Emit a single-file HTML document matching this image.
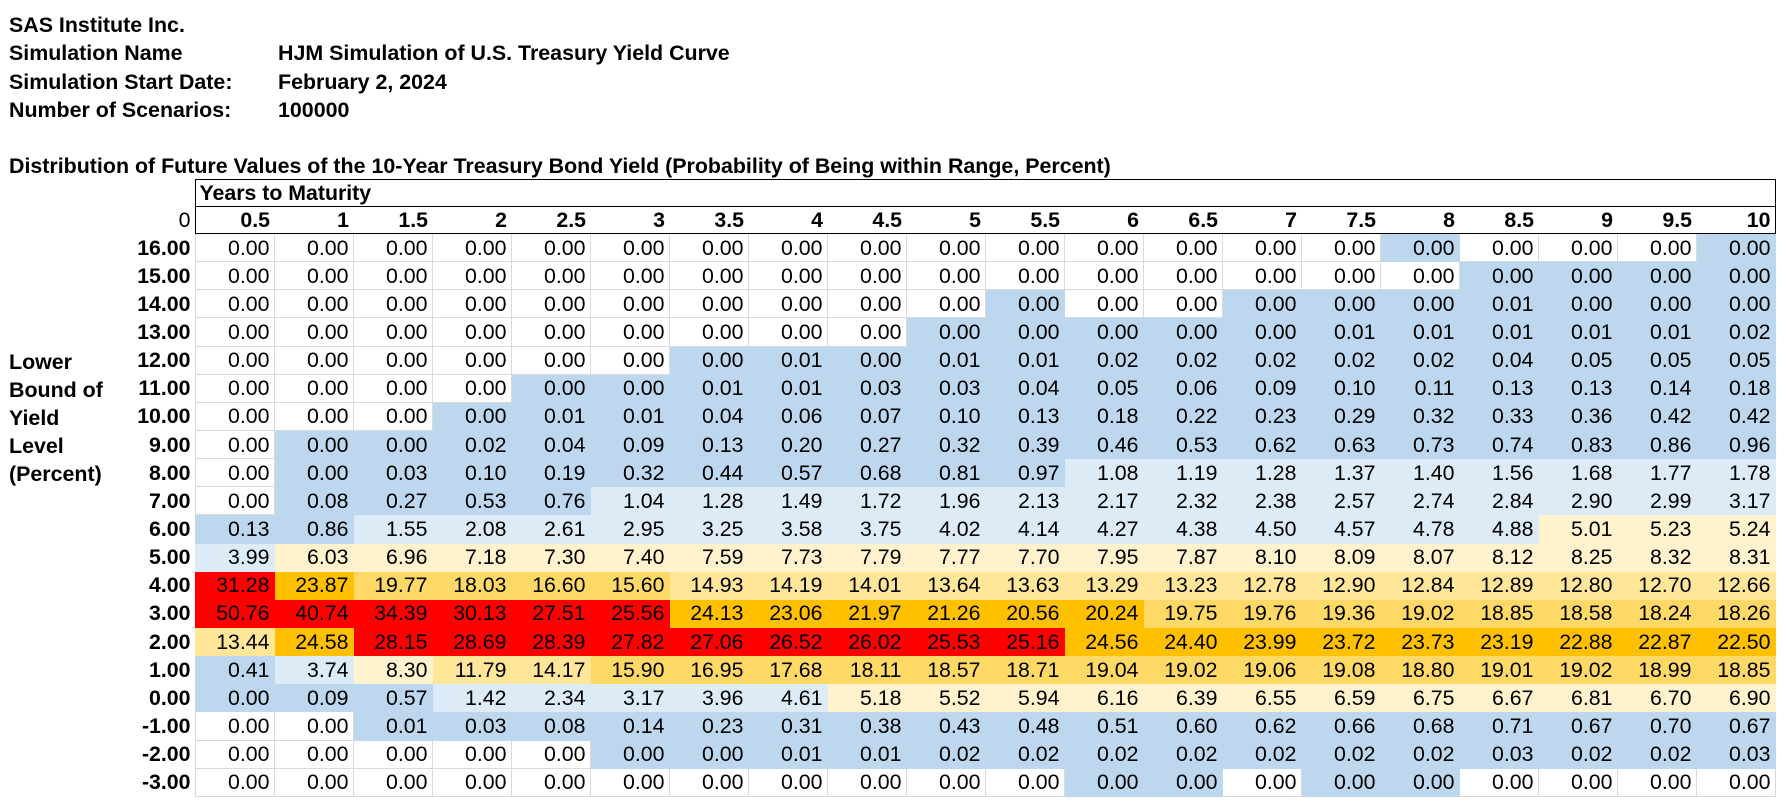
<!DOCTYPE html>
<html><head><meta charset="utf-8"><style>
body{margin:0;width:1786px;height:810px;background:#fff;position:relative;overflow:hidden;font-family:"Liberation Sans",Arial,sans-serif;color:#000}
.t{position:absolute;font-weight:bold;font-size:21.4px;line-height:22px;white-space:nowrap}
table{position:absolute;left:0;top:179px;border-collapse:collapse;table-layout:fixed;font-size:21.3px}
td{padding:0 4px 0 0;text-align:right;white-space:nowrap;border:1px solid #dadada;height:26px;line-height:26px;overflow:hidden}
tr.d td{height:27.15px}
tr.d td.h{border:none;font-weight:bold}
tr.hd td.h0{border:none}
tr.hd td.ym{border:1px solid #000;text-align:left;padding-left:4px;font-weight:bold}
tr.h2 td.h0{border:none}
tr.h2 td.c{border:none;border-top:1px solid #000;border-bottom:1px solid #000;font-weight:bold}
tr.h2 td.c1{border-left:1px solid #000}
tr.h2 td.c20{border-right:1px solid #000}
.b{background:#BDD7EE;border-color:#BDD7EE}
.l{background:#DDEBF7;border-color:#DDEBF7}
.y{background:#FFF2CC;border-color:#FFF2CC}
.o{background:#FFE699;border-color:#FFE699}
.p{background:#FFD966;border-color:#FFD966}
.g{background:#FFC000;border-color:#FFC000}
.r{background:#FF0000;border-color:#FF0000}
</style></head><body>
<div class="t" style="left:9px;top:14px">SAS Institute Inc.</div>
<div class="t" style="left:9px;top:42px">Simulation Name</div>
<div class="t" style="left:278px;top:42px">HJM Simulation of U.S. Treasury Yield Curve</div>
<div class="t" style="left:9px;top:71px">Simulation Start Date:</div>
<div class="t" style="left:278px;top:71px">February 2, 2024</div>
<div class="t" style="left:9px;top:99px">Number of Scenarios:</div>
<div class="t" style="left:278px;top:99px">100000</div>
<div class="t" style="left:9px;top:155px">Distribution of Future Values of the 10-Year Treasury Bond Yield (Probability of Being within Range, Percent)</div>
<div class="t" style="left:9px;top:351px">Lower</div>
<div class="t" style="left:9px;top:379px">Bound of</div>
<div class="t" style="left:9px;top:407px">Yield</div>
<div class="t" style="left:9px;top:435px">Level</div>
<div class="t" style="left:9px;top:463px">(Percent)</div>
<table>
<colgroup><col style="width:195px"><col span="20" style="width:79px"></colgroup>
<tr class="hd"><td class="h0"></td><td class="ym" colspan="20">Years to Maturity</td></tr>
<tr class="h2"><td class="h0">0</td><td class="c c1">0.5</td><td class="c">1</td><td class="c">1.5</td><td class="c">2</td><td class="c">2.5</td><td class="c">3</td><td class="c">3.5</td><td class="c">4</td><td class="c">4.5</td><td class="c">5</td><td class="c">5.5</td><td class="c">6</td><td class="c">6.5</td><td class="c">7</td><td class="c">7.5</td><td class="c">8</td><td class="c">8.5</td><td class="c">9</td><td class="c">9.5</td><td class="c c20">10</td></tr>
<tr class="d"><td class="h">16.00</td><td>0.00</td><td>0.00</td><td>0.00</td><td>0.00</td><td>0.00</td><td>0.00</td><td>0.00</td><td>0.00</td><td>0.00</td><td>0.00</td><td>0.00</td><td>0.00</td><td>0.00</td><td>0.00</td><td>0.00</td><td class="b">0.00</td><td>0.00</td><td>0.00</td><td>0.00</td><td class="b">0.00</td></tr>
<tr class="d"><td class="h">15.00</td><td>0.00</td><td>0.00</td><td>0.00</td><td>0.00</td><td>0.00</td><td>0.00</td><td>0.00</td><td>0.00</td><td>0.00</td><td>0.00</td><td>0.00</td><td>0.00</td><td>0.00</td><td>0.00</td><td>0.00</td><td>0.00</td><td class="b">0.00</td><td class="b">0.00</td><td class="b">0.00</td><td class="b">0.00</td></tr>
<tr class="d"><td class="h">14.00</td><td>0.00</td><td>0.00</td><td>0.00</td><td>0.00</td><td>0.00</td><td>0.00</td><td>0.00</td><td>0.00</td><td>0.00</td><td>0.00</td><td class="b">0.00</td><td>0.00</td><td>0.00</td><td class="b">0.00</td><td class="b">0.00</td><td class="b">0.00</td><td class="b">0.01</td><td class="b">0.00</td><td class="b">0.00</td><td class="b">0.00</td></tr>
<tr class="d"><td class="h">13.00</td><td>0.00</td><td>0.00</td><td>0.00</td><td>0.00</td><td>0.00</td><td>0.00</td><td>0.00</td><td>0.00</td><td>0.00</td><td class="b">0.00</td><td class="b">0.00</td><td class="b">0.00</td><td class="b">0.00</td><td class="b">0.00</td><td class="b">0.01</td><td class="b">0.01</td><td class="b">0.01</td><td class="b">0.01</td><td class="b">0.01</td><td class="b">0.02</td></tr>
<tr class="d"><td class="h">12.00</td><td>0.00</td><td>0.00</td><td>0.00</td><td>0.00</td><td>0.00</td><td>0.00</td><td class="b">0.00</td><td class="b">0.01</td><td class="b">0.00</td><td class="b">0.01</td><td class="b">0.01</td><td class="b">0.02</td><td class="b">0.02</td><td class="b">0.02</td><td class="b">0.02</td><td class="b">0.02</td><td class="b">0.04</td><td class="b">0.05</td><td class="b">0.05</td><td class="b">0.05</td></tr>
<tr class="d"><td class="h">11.00</td><td>0.00</td><td>0.00</td><td>0.00</td><td>0.00</td><td class="b">0.00</td><td class="b">0.00</td><td class="b">0.01</td><td class="b">0.01</td><td class="b">0.03</td><td class="b">0.03</td><td class="b">0.04</td><td class="b">0.05</td><td class="b">0.06</td><td class="b">0.09</td><td class="b">0.10</td><td class="b">0.11</td><td class="b">0.13</td><td class="b">0.13</td><td class="b">0.14</td><td class="b">0.18</td></tr>
<tr class="d"><td class="h">10.00</td><td>0.00</td><td>0.00</td><td>0.00</td><td class="b">0.00</td><td class="b">0.01</td><td class="b">0.01</td><td class="b">0.04</td><td class="b">0.06</td><td class="b">0.07</td><td class="b">0.10</td><td class="b">0.13</td><td class="b">0.18</td><td class="b">0.22</td><td class="b">0.23</td><td class="b">0.29</td><td class="b">0.32</td><td class="b">0.33</td><td class="b">0.36</td><td class="b">0.42</td><td class="b">0.42</td></tr>
<tr class="d"><td class="h">9.00</td><td>0.00</td><td class="b">0.00</td><td class="b">0.00</td><td class="b">0.02</td><td class="b">0.04</td><td class="b">0.09</td><td class="b">0.13</td><td class="b">0.20</td><td class="b">0.27</td><td class="b">0.32</td><td class="b">0.39</td><td class="b">0.46</td><td class="b">0.53</td><td class="b">0.62</td><td class="b">0.63</td><td class="b">0.73</td><td class="b">0.74</td><td class="b">0.83</td><td class="b">0.86</td><td class="b">0.96</td></tr>
<tr class="d"><td class="h">8.00</td><td>0.00</td><td class="b">0.00</td><td class="b">0.03</td><td class="b">0.10</td><td class="b">0.19</td><td class="b">0.32</td><td class="b">0.44</td><td class="b">0.57</td><td class="b">0.68</td><td class="b">0.81</td><td class="b">0.97</td><td class="l">1.08</td><td class="l">1.19</td><td class="l">1.28</td><td class="l">1.37</td><td class="l">1.40</td><td class="l">1.56</td><td class="l">1.68</td><td class="l">1.77</td><td class="l">1.78</td></tr>
<tr class="d"><td class="h">7.00</td><td>0.00</td><td class="b">0.08</td><td class="b">0.27</td><td class="b">0.53</td><td class="b">0.76</td><td class="l">1.04</td><td class="l">1.28</td><td class="l">1.49</td><td class="l">1.72</td><td class="l">1.96</td><td class="l">2.13</td><td class="l">2.17</td><td class="l">2.32</td><td class="l">2.38</td><td class="l">2.57</td><td class="l">2.74</td><td class="l">2.84</td><td class="l">2.90</td><td class="l">2.99</td><td class="l">3.17</td></tr>
<tr class="d"><td class="h">6.00</td><td class="b">0.13</td><td class="b">0.86</td><td class="l">1.55</td><td class="l">2.08</td><td class="l">2.61</td><td class="l">2.95</td><td class="l">3.25</td><td class="l">3.58</td><td class="l">3.75</td><td class="l">4.02</td><td class="l">4.14</td><td class="l">4.27</td><td class="l">4.38</td><td class="l">4.50</td><td class="l">4.57</td><td class="l">4.78</td><td class="l">4.88</td><td class="y">5.01</td><td class="y">5.23</td><td class="y">5.24</td></tr>
<tr class="d"><td class="h">5.00</td><td class="l">3.99</td><td class="y">6.03</td><td class="y">6.96</td><td class="y">7.18</td><td class="y">7.30</td><td class="y">7.40</td><td class="y">7.59</td><td class="y">7.73</td><td class="y">7.79</td><td class="y">7.77</td><td class="y">7.70</td><td class="y">7.95</td><td class="y">7.87</td><td class="y">8.10</td><td class="y">8.09</td><td class="y">8.07</td><td class="y">8.12</td><td class="y">8.25</td><td class="y">8.32</td><td class="y">8.31</td></tr>
<tr class="d"><td class="h">4.00</td><td class="r">31.28</td><td class="g">23.87</td><td class="p">19.77</td><td class="p">18.03</td><td class="p">16.60</td><td class="p">15.60</td><td class="o">14.93</td><td class="o">14.19</td><td class="o">14.01</td><td class="o">13.64</td><td class="o">13.63</td><td class="o">13.29</td><td class="o">13.23</td><td class="o">12.78</td><td class="o">12.90</td><td class="o">12.84</td><td class="o">12.89</td><td class="o">12.80</td><td class="o">12.70</td><td class="o">12.66</td></tr>
<tr class="d"><td class="h">3.00</td><td class="r">50.76</td><td class="r">40.74</td><td class="r">34.39</td><td class="r">30.13</td><td class="r">27.51</td><td class="r">25.56</td><td class="g">24.13</td><td class="g">23.06</td><td class="g">21.97</td><td class="g">21.26</td><td class="g">20.56</td><td class="g">20.24</td><td class="p">19.75</td><td class="p">19.76</td><td class="p">19.36</td><td class="p">19.02</td><td class="p">18.85</td><td class="p">18.58</td><td class="p">18.24</td><td class="p">18.26</td></tr>
<tr class="d"><td class="h">2.00</td><td class="o">13.44</td><td class="g">24.58</td><td class="r">28.15</td><td class="r">28.69</td><td class="r">28.39</td><td class="r">27.82</td><td class="r">27.06</td><td class="r">26.52</td><td class="r">26.02</td><td class="r">25.53</td><td class="r">25.16</td><td class="g">24.56</td><td class="g">24.40</td><td class="g">23.99</td><td class="g">23.72</td><td class="g">23.73</td><td class="g">23.19</td><td class="g">22.88</td><td class="g">22.87</td><td class="g">22.50</td></tr>
<tr class="d"><td class="h">1.00</td><td class="b">0.41</td><td class="l">3.74</td><td class="y">8.30</td><td class="o">11.79</td><td class="o">14.17</td><td class="p">15.90</td><td class="p">16.95</td><td class="p">17.68</td><td class="p">18.11</td><td class="p">18.57</td><td class="p">18.71</td><td class="p">19.04</td><td class="p">19.02</td><td class="p">19.06</td><td class="p">19.08</td><td class="p">18.80</td><td class="p">19.01</td><td class="p">19.02</td><td class="p">18.99</td><td class="p">18.85</td></tr>
<tr class="d"><td class="h">0.00</td><td class="b">0.00</td><td class="b">0.09</td><td class="b">0.57</td><td class="l">1.42</td><td class="l">2.34</td><td class="l">3.17</td><td class="l">3.96</td><td class="l">4.61</td><td class="y">5.18</td><td class="y">5.52</td><td class="y">5.94</td><td class="y">6.16</td><td class="y">6.39</td><td class="y">6.55</td><td class="y">6.59</td><td class="y">6.75</td><td class="y">6.67</td><td class="y">6.81</td><td class="y">6.70</td><td class="y">6.90</td></tr>
<tr class="d"><td class="h">-1.00</td><td>0.00</td><td>0.00</td><td class="b">0.01</td><td class="b">0.03</td><td class="b">0.08</td><td class="b">0.14</td><td class="b">0.23</td><td class="b">0.31</td><td class="b">0.38</td><td class="b">0.43</td><td class="b">0.48</td><td class="b">0.51</td><td class="b">0.60</td><td class="b">0.62</td><td class="b">0.66</td><td class="b">0.68</td><td class="b">0.71</td><td class="b">0.67</td><td class="b">0.70</td><td class="b">0.67</td></tr>
<tr class="d"><td class="h">-2.00</td><td>0.00</td><td>0.00</td><td>0.00</td><td>0.00</td><td>0.00</td><td class="b">0.00</td><td class="b">0.00</td><td class="b">0.01</td><td class="b">0.01</td><td class="b">0.02</td><td class="b">0.02</td><td class="b">0.02</td><td class="b">0.02</td><td class="b">0.02</td><td class="b">0.02</td><td class="b">0.02</td><td class="b">0.03</td><td class="b">0.02</td><td class="b">0.02</td><td class="b">0.03</td></tr>
<tr class="d"><td class="h">-3.00</td><td>0.00</td><td>0.00</td><td>0.00</td><td>0.00</td><td>0.00</td><td>0.00</td><td>0.00</td><td>0.00</td><td>0.00</td><td>0.00</td><td>0.00</td><td class="b">0.00</td><td class="b">0.00</td><td>0.00</td><td class="b">0.00</td><td class="b">0.00</td><td>0.00</td><td>0.00</td><td>0.00</td><td>0.00</td></tr>
</table>
</body></html>
